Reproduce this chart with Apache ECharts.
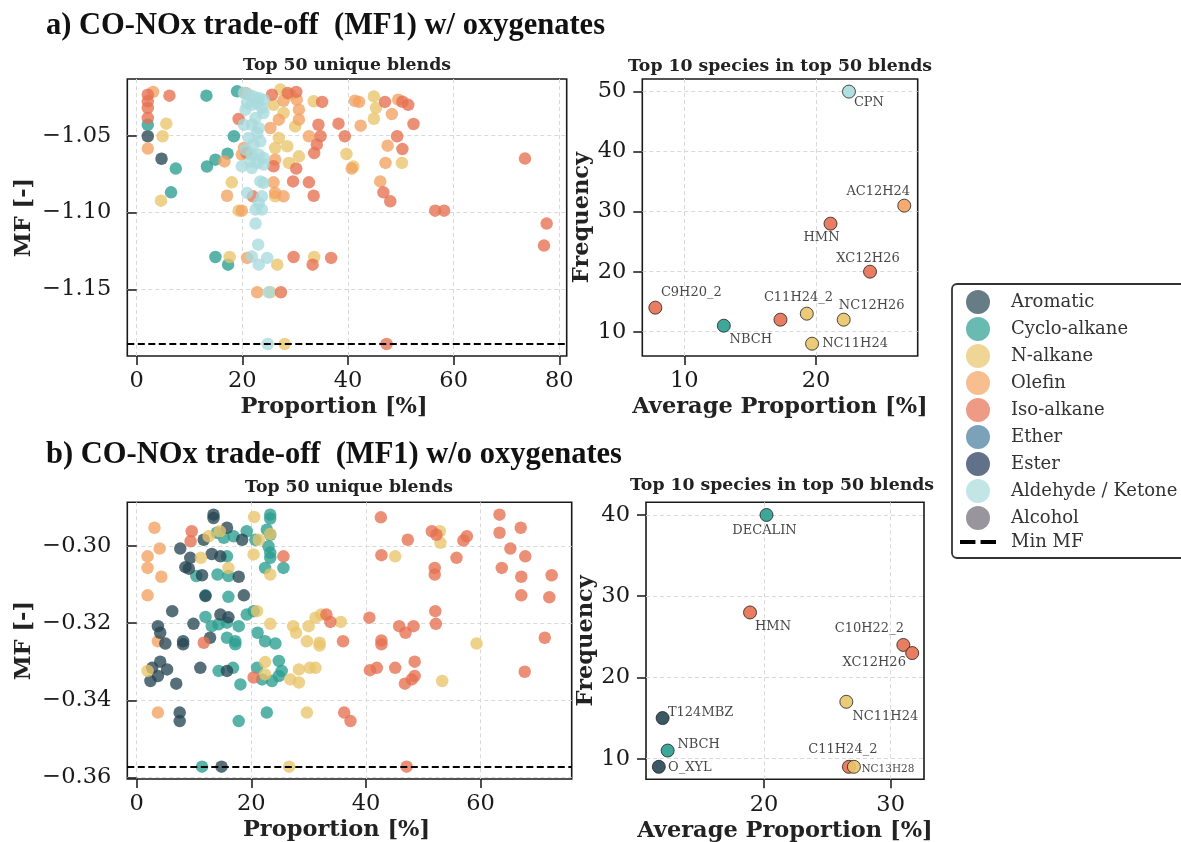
<!DOCTYPE html>
<html>
<head>
<meta charset="utf-8">
<script src="https://cdn.jsdelivr.net/npm/echarts@6/dist/echarts.min.js"></script>
<style>
  html, body { margin: 0; padding: 0; background: #ffffff; }
  #chart { width: 1181px; height: 842px; }
</style>
</head>
<body>
<div id="chart"></div>
<script>
// ---------------------------------------------------------------------------
// Species classes (legend order) and their colours
// ---------------------------------------------------------------------------
const classNames = ['Aromatic', 'Cyclo-alkane', 'N-alkane', 'Olefin', 'Iso-alkane',
                    'Ether', 'Ester', 'Aldehyde / Ketone', 'Alcohol'];
const classColors = ['#264653', '#2a9d8f', '#e9c46a', '#f4a261', '#e76f51',
                     '#457b9d', '#1d3557', '#a8dadc', '#6d6875'];

// ---------------------------------------------------------------------------
// a) with oxygenates: [proportion %, MF] of every species in the top-50 blends
// ---------------------------------------------------------------------------
const aAromatic = [[2.1,-1.0504],[4.7,-1.065]];
const aCyclo = [[13.2,-1.024],[19.0,-1.0212],[2.1,-1.0429],[7.4,-1.0714],[13.3,-1.070],[14.9,-1.0656],
  [17.2,-1.0617],[18.4,-1.0504],[6.5,-1.0868],[14.9,-1.1288],[17.3,-1.1338]];
const aNalkane = [[5.6,-1.0422],[4.9,-1.0504],[4.6,-1.0922],[18.0,-1.0803],[19.3,-1.0987],[17.6,-1.1288],
  [26.6,-1.1338],[33.6,-1.1288],[25.3,-1.1517],[28.0,-1.1853],[27.2,-1.0201],[29.1,-1.0234],[25.9,-1.0299],
  [27.8,-1.0353],[30.0,-1.044],[26.9,-1.0515],[28.5,-1.0569],[30.7,-1.0634],[28.8,-1.0677],[26.2,-1.058],
  [33.5,-1.0277],[26.2,-1.0894],[44.9,-1.0245],[45.3,-1.032],[44.9,-1.039],[39.7,-1.0619],[41.0,-1.070],
  [50.2,-1.0677]];
const aOlefin = [[3.1,-1.0216],[2.1,-1.0584],[16.6,-1.0667],[17.1,-1.089],[19.9,-1.0987],[20.9,-1.1294],
  [22.8,-1.1517],[27.8,-1.0273],[30.3,-1.0266],[30.7,-1.0331],[30.7,-1.0396],[26.9,-1.0396],[25.3,-1.045],
  [32.6,-1.0504],[26.2,-1.0656],[25.9,-1.0803],[26.2,-1.0872],[27.8,-1.0894],[20.3,-1.058],[19.9,-1.0623],
  [20.6,-1.0223],[41.3,-1.0273],[42.1,-1.0281],[42.4,-1.0435],[48.3,-1.036],[49.5,-1.0266],[47.5,-1.0565],
  [40.7,-1.0714],[47.1,-1.0677],[46.1,-1.0797]];
const aIso = [[2.1,-1.0234],[2.1,-1.0277],[2.1,-1.032],[2.1,-1.0385],[6.2,-1.024],[19.3,-1.0392],
  [25.6,-1.0234],[28.6,-1.0223],[30.2,-1.0216],[35.1,-1.0281],[34.4,-1.0429],[34.8,-1.0504],[34.1,-1.0558],
  [33.6,-1.0613],[20.8,-1.0613],[25.9,-1.0699],[30.2,-1.0714],[29.6,-1.0797],[32.6,-1.0803],[33.5,-1.089],
  [22.0,-1.0894],[29.7,-1.1288],[33.3,-1.1338],[27.3,-1.1517],[38.2,-1.0422],[39.4,-1.0504],[47.0,-1.0281],
  [50.3,-1.028],[51.4,-1.030],[52.4,-1.0424],[49.3,-1.0504],[50.3,-1.0587],[46.7,-1.0868],[48.0,-1.0926],
  [56.5,-1.0987],[58.2,-1.0987],[73.5,-1.0649],[77.6,-1.1071],[77.1,-1.1214],[36.8,-1.1294],[47.3,-1.1853]];
const aAldehyde = [[20.3,-1.0223],[21.2,-1.0234],[22.1,-1.0245],[23.1,-1.0255],[24.0,-1.0266],[20.9,-1.0288],
  [21.8,-1.0299],[22.8,-1.0288],[23.7,-1.032],[20.6,-1.0331],[24.0,-1.0353],[22.5,-1.0385],[21.8,-1.0429],
  [23.1,-1.045],[20.3,-1.0429],[22.8,-1.0483],[21.2,-1.0515],[23.4,-1.0537],[22.1,-1.0558],[20.6,-1.0591],
  [21.8,-1.0623],[23.1,-1.0623],[24.0,-1.0645],[21.5,-1.0667],[22.8,-1.0677],[19.9,-1.0699],[21.8,-1.071],
  [24.0,-1.0688],[23.4,-1.0797],[24.0,-1.0807],[20.9,-1.0872],[23.7,-1.0894],[23.1,-1.0937],[22.5,-1.098],
  [23.7,-1.098],[22.5,-1.1071],[23.0,-1.1208],[21.8,-1.1284],[24.7,-1.1294],[23.1,-1.1338],[25.0,-1.1517],
  [24.8,-1.1853]];
const aMinMF = -1.1853;

// a) top-10 species: average proportion vs. frequency
const aSpecies = ['CPN', 'AC12H24', 'HMN', 'XC12H26', 'C9H20_2', 'NBCH', 'C11H24_2', '', 'NC12H26', 'NC11H24'];
const aAvgProp = [22.5, 26.7, 21.1, 24.1, 7.8, 13.0, 17.3, 19.3, 22.1, 19.7];
const aFreq    = [50, 31, 28, 20, 14, 11, 12, 13, 12, 8];
const aClass   = ['Aldehyde / Ketone', 'Olefin', 'Iso-alkane', 'Iso-alkane', 'Iso-alkane', 'Cyclo-alkane',
                  'Iso-alkane', 'N-alkane', 'N-alkane', 'N-alkane'];

// ---------------------------------------------------------------------------
// b) without oxygenates
// ---------------------------------------------------------------------------
const bAromatic = [[13.4,-0.2919],[13.4,-0.2928],[15.75,-0.2953],[18.4,-0.2984],[7.6,-0.3007],[9.35,-0.3031],
  [8.5,-0.3055],[9.1,-0.3059],[11.4,-0.3076],[14.6,-0.3027],[13.1,-0.3021],[17.8,-0.308],[18.7,-0.3128],
  [12.0,-0.313],[6.2,-0.3169],[3.7,-0.3208],[4.1,-0.3225],[5.0,-0.3253],[8.1,-0.3247],[8.1,-0.3255],
  [9.9,-0.3202],[12.8,-0.3238],[14.6,-0.3178],[16.0,-0.3185],[4.1,-0.33],[5.3,-0.332],[2.7,-0.3316],
  [2.4,-0.335],[3.7,-0.3337],[6.9,-0.3357],[11.1,-0.3316],[15.75,-0.3324],[7.5,-0.3432],[7.5,-0.3454],
  [14.8,-0.3572],[11.7,-0.2984]];
const bCyclo = [[23.3,-0.2919],[23.3,-0.2929],[22.7,-0.2958],[23.3,-0.2971],[23.0,-0.3001],[23.3,-0.3018],
  [23.3,-0.3031],[22.4,-0.3057],[25.6,-0.3057],[19.2,-0.2962],[20.7,-0.2984],[16.9,-0.2975],[14.0,-0.2966],
  [15.75,-0.3027],[14.1,-0.3074],[16.0,-0.3078],[10.4,-0.3078],[12.0,-0.3128],[16.0,-0.3132],[12.0,-0.3184],
  [13.1,-0.3208],[14.3,-0.3203],[15.75,-0.3199],[17.8,-0.3208],[19.2,-0.3178],[20.4,-0.3169],[21.1,-0.3225],
  [22.4,-0.3247],[24.2,-0.3253],[15.75,-0.3238],[17.2,-0.3247],[17.2,-0.3255],[21.0,-0.3316],[24.8,-0.3298],
  [25.3,-0.3324],[24.8,-0.3337],[21.9,-0.3346],[23.6,-0.335],[14.3,-0.3324],[16.8,-0.3316],[18.1,-0.3359],
  [22.7,-0.3432],[17.8,-0.3454],[11.4,-0.3572],[15.2,-0.2979]];
const bNalkane = [[20.5,-0.2925],[23.3,-0.2969],[21.3,-0.2984],[20.4,-0.3022],[11.2,-0.3031],[16.0,-0.3057],
  [23.3,-0.3074],[12.55,-0.2975],[14.5,-0.2962],[21.0,-0.3169],[23.3,-0.3202],[27.3,-0.3208],[27.8,-0.3225],
  [30.0,-0.3208],[31.2,-0.3186],[32.2,-0.3178],[29.7,-0.3247],[31.9,-0.3251],[22.4,-0.3301],[22.4,-0.3333],
  [26.8,-0.3346],[28.3,-0.3354],[28.3,-0.332],[30.2,-0.3316],[31.2,-0.3316],[1.9,-0.3324],[29.7,-0.3432],
  [26.6,-0.3572],[52.9,-0.2962],[53.0,-0.2992],[45.1,-0.3027],[35.6,-0.3197],[59.3,-0.3253],[53.3,-0.335],
  [31.9,-0.3258]];
const bOlefin = [[3.1,-0.2953],[4.0,-0.3007],[1.9,-0.3027],[1.9,-0.3057],[4.3,-0.308],[1.9,-0.3128],
  [3.7,-0.3247],[3.7,-0.3432]];
const bIso = [[9.6,-0.2962],[9.4,-0.2988],[25.6,-0.3027],[11.7,-0.3251],[20.4,-0.3341],[42.6,-0.2926],
  [47.3,-0.2984],[51.5,-0.2962],[52.3,-0.2971],[57.6,-0.2975],[57.0,-0.2986],[42.7,-0.3024],[55.8,-0.3031],
  [52.0,-0.3057],[52.0,-0.3074],[63.3,-0.2919],[63.3,-0.2966],[67.0,-0.2953],[65.2,-0.3007],[67.8,-0.3027],
  [63.7,-0.3057],[67.1,-0.308],[72.4,-0.3076],[67.1,-0.3128],[72.0,-0.3133],[33.1,-0.3178],[33.8,-0.3197],
  [40.6,-0.3186],[45.8,-0.3208],[48.3,-0.3208],[46.9,-0.3225],[52.1,-0.3169],[52.2,-0.3202],[36.0,-0.3247],
  [42.7,-0.3245],[42.7,-0.3255],[71.2,-0.3238],[40.7,-0.3322],[41.9,-0.3316],[45.1,-0.3316],[48.5,-0.33],
  [48.5,-0.3337],[48.0,-0.3346],[46.8,-0.3357],[67.7,-0.3326],[36.2,-0.3432],[37.3,-0.3454],[47.1,-0.3572]];
const bMinMF = -0.3572;

// b) top-10 species
const bSpecies = ['DECALIN', 'HMN', 'C10H22_2', 'XC12H26', 'NC11H24', 'T124MBZ', 'NBCH', 'O_XYL', 'C11H24_2', 'NC13H28'];
const bAvgProp = [20.2, 18.9, 31.0, 31.7, 26.5, 12.0, 12.4, 11.7, 26.7, 27.1];
const bFreq    = [40, 28, 24, 23, 17, 15, 11, 9, 9, 9];
const bClass   = ['Cyclo-alkane', 'Iso-alkane', 'Iso-alkane', 'Iso-alkane', 'N-alkane', 'Aromatic',
                  'Cyclo-alkane', 'Aromatic', 'Iso-alkane', 'N-alkane'];

// tick values
const aPropTicks = [0, 20, 40, 60, 80];
const aMFTicks   = [-1.15, -1.10, -1.05];
const aAvgTicks  = [10, 20];
const aFreqTicks = [10, 20, 30, 40, 50];
const bPropTicks = [0, 20, 40, 60];
const bMFTicks   = [-0.36, -0.34, -0.32, -0.30];
const bAvgTicks  = [20, 30];
const bFreqTicks = [10, 20, 30, 40];

// ---------------------------------------------------------------------------
// presentation settings
// ---------------------------------------------------------------------------
const FONT = 'DejaVu Serif';
const TEXT = '#222222';
const TICK_FONT = 22.5;
const NAME_FONT = 22.5;
// label placement (pixel offsets from each marker) for the species panels
const aLabelOffsets = [[20,11],[-26,-14],[-9,14],[-2,-13],[36,-15],[27,14],[18,-22],[0,0],[28,-14],[43,0]];
const bLabelOffsets = [[-2,16],[23,14],[-34,-16],[-38,10],[39,15],[38,-5],[31,-6],[31,1],[-6,-17],[34,2]];
const bSmallLabels  = ['NC13H28'];

const grids = [
  { left: 127.3, top: 79,    width: 439.4, height: 277 },   // a) blends
  { left: 642.3, top: 79,    width: 275.4, height: 277 },   // a) species
  { left: 127.3, top: 502.3, width: 444.4, height: 276.7 }, // b) blends
  { left: 646,   top: 502.3, width: 278,   height: 277 }    // b) species
].map(g => Object.assign({
  show: true, borderColor: '#1a1a1a', borderWidth: 1.6, backgroundColor: 'transparent',
  containLabel: false, outerBoundsMode: 'none'
}, g));

function fmt(dec) {
  return v => (v < -1e-9 ? '\u2212' : '') + Math.abs(v).toFixed(dec);
}

function axis(gridIndex, range, ticks, dec, name, nameGap, namePad) {
  return {
    type: 'value', gridIndex, min: range[0], max: range[1],
    axisLine: { show: false },
    axisTick: { show: true, inside: false, length: 9, customValues: ticks,
                lineStyle: { color: '#222', width: 1.6 } },
    axisLabel: { customValues: ticks, formatter: fmt(dec), fontFamily: FONT, fontSize: TICK_FONT,
                 color: '#1a1a1a', margin: 14 },
    splitLine: { show: true, lineStyle: { color: '#d9d9d9', width: 1, type: [4, 3] } },
    name, nameLocation: 'middle', nameGap,
    nameTextStyle: { fontFamily: FONT, fontWeight: 'bold', fontSize: NAME_FONT, color: TEXT,
                     padding: namePad || 0 }
  };
}

const xAxes = [
  axis(0, [-1.78, 81.4], aPropTicks, 0, 'Proportion [%]', 40, [0, 26, 0, 0]),
  axis(1, [6.81, 27.72], aAvgTicks, 0, 'Average Proportion [%]', 40),
  axis(2, [-1.64, 75.9], bPropTicks, 0, 'Proportion [%]', 40, [0, 26, 0, 0]),
  axis(3, [10.69, 32.63], bAvgTicks, 0, 'Average Proportion [%]', 40)
];
const yAxes = [
  axis(0, [-1.1931, -1.0132], aMFTicks, 2, 'MF [-]', 92),
  axis(1, [5.95, 52.1], aFreqTicks, 0, 'Frequency', 45),
  axis(2, [-0.3604, -0.2887], bMFTicks, 2, 'MF [-]', 92),
  axis(3, [7.46, 41.56], bFreqTicks, 0, 'Frequency', 47)
];
yAxes.forEach(a => { a.axisLabel.margin = 16; });

const colorOf = name => classColors[classNames.indexOf(name)];

// blends panels: one scatter series per class
function blendSeries(idx, groups) {
  return groups.map(([cls, pts]) => ({
    type: 'scatter', name: cls, xAxisIndex: idx, yAxisIndex: idx,
    data: pts, symbolSize: 12.5,
    itemStyle: { color: colorOf(cls), opacity: 0.78 },
    emphasis: { disabled: true }
  }));
}

function minLine(idx, value) {
  return {
    type: 'line', name: 'Min MF', xAxisIndex: idx, yAxisIndex: idx, data: [],
    symbol: 'none', itemStyle: { color: '#000' },
    lineStyle: { color: '#000', width: 2, type: [7, 3.5] },
    markLine: {
      silent: true, symbol: ['none', 'none'], label: { show: false }, precision: 6,
      lineStyle: { color: '#000', width: 2, type: [7, 3.5] },
      data: [{ yAxis: value }]
    }
  };
}

// species panels: single scatter series with one labelled point per species
function speciesSeries(idx, names, xs, ys, classes, offsets, small) {
  return {
    type: 'scatter', name: 'species-' + idx, xAxisIndex: idx, yAxisIndex: idx,
    symbolSize: 13, z: 5,
    data: names.map((n, i) => ({
      value: [xs[i], ys[i]], name: n,
      itemStyle: { color: colorOf(classes[i]), opacity: 0.9, borderColor: '#222', borderWidth: 0.9 },
      label: {
        show: n !== '', position: 'inside', offset: offsets[i], formatter: n,
        fontFamily: FONT, fontSize: small.includes(n) ? 10.5 : 13, color: '#333',
        align: 'center', verticalAlign: 'middle'
      }
    })),
    emphasis: { disabled: true }
  };
}

const series = [].concat(
  blendSeries(0, [['Aromatic', aAromatic], ['Cyclo-alkane', aCyclo], ['N-alkane', aNalkane],
                  ['Olefin', aOlefin], ['Iso-alkane', aIso], ['Aldehyde / Ketone', aAldehyde],
                  ['Ether', []], ['Ester', []], ['Alcohol', []]]),
  [minLine(0, aMinMF)],
  [speciesSeries(1, aSpecies, aAvgProp, aFreq, aClass, aLabelOffsets, [])],
  blendSeries(2, [['Olefin', bOlefin], ['Cyclo-alkane', bCyclo], ['Aromatic', bAromatic],
                  ['N-alkane', bNalkane], ['Iso-alkane', bIso]]),
  [minLine(2, bMinMF)],
  [speciesSeries(3, bSpecies, bAvgProp, bFreq, bClass, bLabelOffsets, bSmallLabels)]
);

const titleFont = { fontFamily: 'Liberation Serif', fontWeight: 'bold', fontSize: 30.5, fill: '#111' };
const subFont = { fontFamily: FONT, fontWeight: 'bold', fontSize: 17.3, fill: TEXT };
function text(x, y, str, style, align) {
  return { type: 'text', x, y, silent: true,
           style: Object.assign({ text: str, align: align || 'center', verticalAlign: 'middle' }, style) };
}

const option = {
  animation: false,
  backgroundColor: '#ffffff',
  grid: grids,
  xAxis: xAxes,
  yAxis: yAxes,
  legend: {
    orient: 'vertical', left: 952, top: 284,
    data: classNames.map(n => ({ name: n, icon: 'circle', itemStyle: { opacity: 0.7 } }))
      .concat([{ name: 'Min MF', icon: 'path://M0,0H15V4H0Z M20,0H35V4H20Z',
                 itemStyle: { color: '#000', opacity: 1 } }]),
    itemWidth: 36, itemHeight: 24, itemGap: 3,
    textStyle: { fontFamily: FONT, fontSize: 18, color: '#333', padding: [0, 0, 0, 10] },
    borderColor: '#333', borderWidth: 1.8, borderRadius: 5,
    padding: [6, 24, 7, 8], backgroundColor: '#ffffff',
    selectedMode: false
  },
  graphic: [
    text(46, 26, 'a) CO-NOx trade-off  (MF1) w/ oxygenates', titleFont, 'left'),
    text(347, 66, 'Top 50 unique blends', subFont),
    text(780, 67, 'Top 10 species in top 50 blends', subFont),
    text(46, 455, 'b) CO-NOx trade-off  (MF1) w/o oxygenates', titleFont, 'left'),
    text(349, 488, 'Top 50 unique blends', subFont),
    text(782, 486, 'Top 10 species in top 50 blends', subFont)
  ],
  series
};

const chart = echarts.init(document.getElementById('chart'), null, { renderer: 'canvas' });
chart.setOption(option);
</script>
</body>
</html>
